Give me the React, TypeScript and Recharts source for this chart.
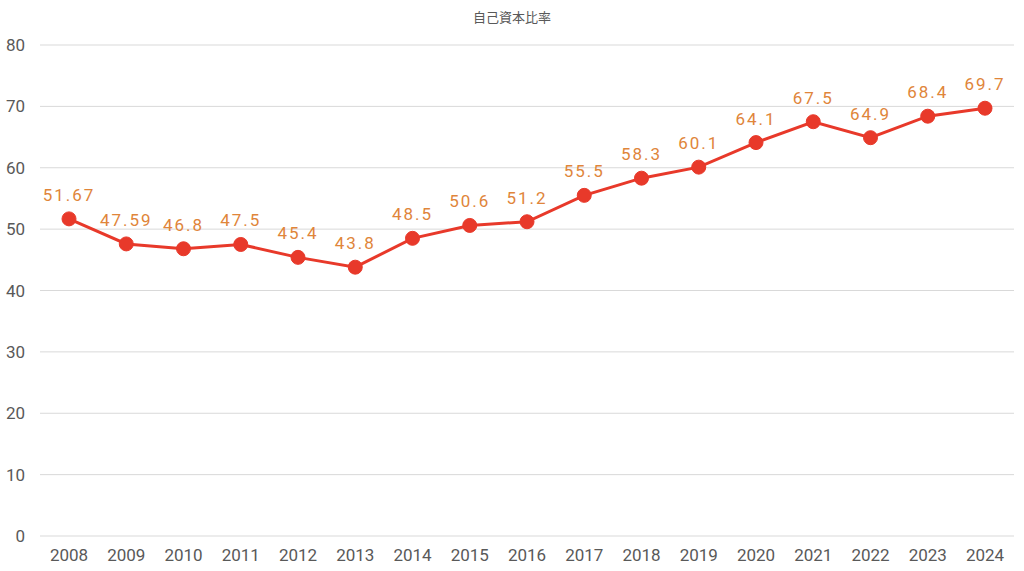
// 自己資本比率の推移グラフ

import React from 'react';
import { LineChart, Line, CartesianGrid, XAxis, YAxis, LabelList } from 'recharts';

const years = ['2008', '2009', '2010', '2011', '2012', '2013', '2014', '2015', '2016', '2017', '2018', '2019', '2020', '2021', '2022', '2023', '2024'];
const ratios = [51.67, 47.59, 46.8, 47.5, 45.4, 43.8, 48.5, 50.6, 51.2, 55.5, 58.3, 60.1, 64.1, 67.5, 64.9, 68.4, 69.7];
const yTicks = [0, 10, 20, 30, 40, 50, 60, 70, 80];
const labels = ['51.67', '47.59', '46.8', '47.5', '45.4', '43.8', '48.5', '50.6', '51.2', '55.5', '58.3', '60.1', '64.1', '67.5', '64.9', '68.4', '69.7'];

const data = years.map((year, i) => ({ year, ratio: ratios[i], label: labels[i] }));

const LINE_COLOR = '#E8392A';
const LABEL_COLOR = '#E0853A';
const TEXT_COLOR = '#595959';
const FONT = 'Roboto, "Noto Sans CJK JP", sans-serif';

const App = () => {
  return (
    <div style={{ position: 'absolute', left: 0, top: 0, width: 1024, height: 571, background: '#fff', fontFamily: FONT }}>
      <div
        style={{
          position: 'absolute',
          top: 8,
          left: 0,
          width: 1024,
          textAlign: 'center',
          fontSize: 13,
          color: TEXT_COLOR,
          fontFamily: '"Noto Sans CJK JP", sans-serif',
          lineHeight: '18px',
        }}
      >
        自己資本比率
      </div>
      <LineChart width={1024} height={571} data={data} margin={{ top: 45, right: 10, bottom: 0, left: 0 }}>
        <CartesianGrid vertical={false} stroke="#D9D9D9" />
        <XAxis
          dataKey="year"
          height={35}
          padding={{ left: 29, right: 29 }}
          axisLine={false}
          tickLine={false}
          tickSize={0}
          tickMargin={13}
          interval={0}
          tick={{ fill: TEXT_COLOR, fontSize: 17, fontFamily: FONT }}
        />
        <YAxis
          width={40}
          domain={[0, 80]}
          ticks={yTicks}
          axisLine={false}
          tickLine={false}
          tickSize={0}
          tickMargin={15}
          tick={{ fill: TEXT_COLOR, fontSize: 17, fontFamily: FONT }}
        />
        <Line
          type="linear"
          dataKey="ratio"
          stroke={LINE_COLOR}
          strokeWidth={3}
          dot={{ r: 7, fill: LINE_COLOR, stroke: LINE_COLOR, strokeWidth: 1 }}
          activeDot={false}
          isAnimationActive={false}
        >
          <LabelList
            dataKey="label"
            position="top"
            offset={18}
            fill={LABEL_COLOR}
            style={{ fontSize: 17, fontFamily: FONT, letterSpacing: 2 }}
          />
        </Line>
      </LineChart>
    </div>
  );
};

export default App;
